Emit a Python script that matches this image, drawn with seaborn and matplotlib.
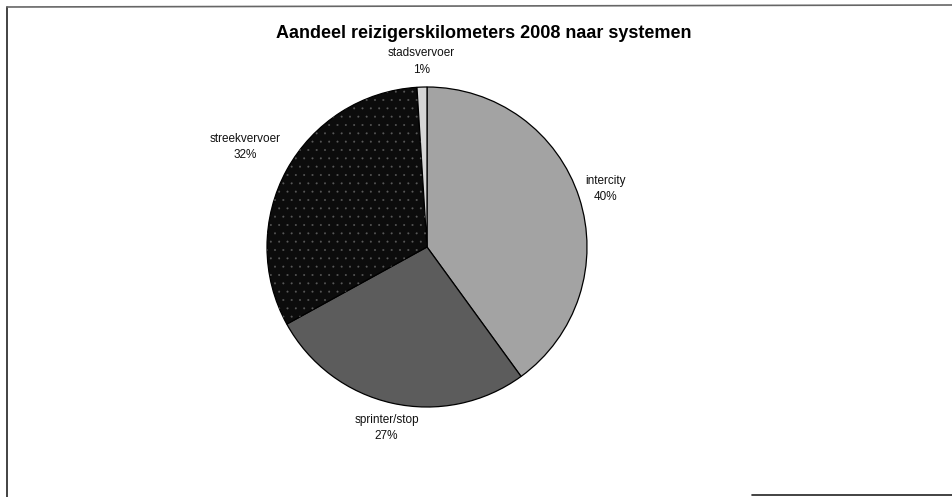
import numpy as np
import matplotlib
matplotlib.use("Agg")
import matplotlib.pyplot as plt
from matplotlib.lines import Line2D
import seaborn as sns

# Share of passenger-kilometres per system, 2008 (percent)
categories = ["intercity", "sprinter/stop", "streekvervoer", "stadsvervoer"]
shares = [40, 27, 32, 1]
title = "Aandeel reizigerskilometers 2008 naar systemen"

# Greyscale fills per slice
fills = ["#a3a3a3", "#5c5c5c", "#0c0c0c", "#d6d6d6"]
# Label distance from centre (in radii) per slice
label_dist = [1.17, 1.16, 1.30, 1.16]

sns.set_theme(style="white")
plt.rcParams["font.family"] = ["Liberation Sans", "DejaVu Sans"]
plt.rcParams["hatch.linewidth"] = 0.2

W, H = 952, 497
fig = plt.figure(figsize=(W / 100, H / 100), dpi=100)
fig.patch.set_facecolor("white")

# Pie axes: centre (427, 247) px, radius 160 px
cx, cy, r = 427, 247, 160
ax = fig.add_axes([(cx - r) / W, (H - cy - r) / H, 2 * r / W, 2 * r / H])
wedges, _ = ax.pie(
    shares,
    colors=fills,
    startangle=90,
    counterclock=False,
    wedgeprops=dict(edgecolor="black", linewidth=0.9),
)

# Fine dot texture on the dark slice
dots = ax.pie(
    shares,
    colors=["none"] * len(shares),
    startangle=90,
    counterclock=False,
    wedgeprops=dict(edgecolor="#5a5a5a", linewidth=0),
)[0]
for i, w in enumerate(dots):
    if categories[i] == "streekvervoer":
        w.set_hatch("..")
    else:
        w.set_visible(False)

ax.set_xlim(-1, 1)
ax.set_ylim(-1, 1)
ax.set_aspect("equal")
ax.axis("off")

# Category labels with percentages, placed along each slice's mid-angle
for w, name, val, d in zip(wedges, categories, shares, label_dist):
    mid = np.deg2rad((w.theta1 + w.theta2) / 2)
    ax.text(d * np.cos(mid), d * np.sin(mid), f"{name}\n{val}%",
            ha="center", va="center", fontsize=8.5, color="#111111",
            linespacing=1.45, clip_on=False)

fig.text(484 / W, 1 - 34 / H, title, ha="center", va="center",
         fontsize=13, fontweight="bold", color="black")

# Chart frame
frame_kw = dict(color="#222222", linewidth=1.2, transform=fig.transFigure)
fig.add_artist(Line2D([7 / W, 7 / W], [1 - 7 / H, 0], **frame_kw))
fig.add_artist(Line2D([7 / W, 1], [1 - 7 / H, 1 - 5 / H], color="#666666",
                      linewidth=1.2, transform=fig.transFigure))
fig.add_artist(Line2D([752 / W, 1], [1 - 495 / H, 1 - 495 / H], **frame_kw))

fig.savefig("out.png", dpi=100, facecolor="white")
